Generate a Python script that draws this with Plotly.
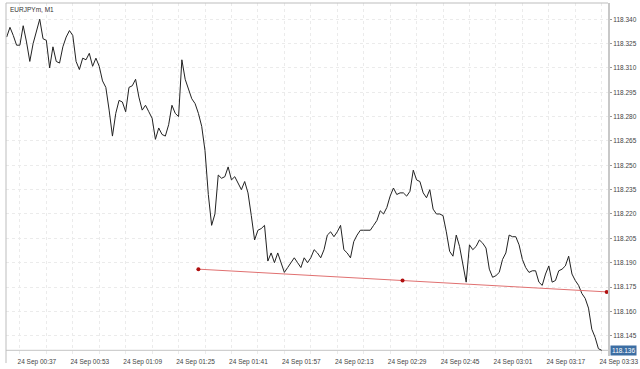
import plotly.graph_objects as go
import pandas as pd

# ---- data ----
start_time = "2019-09-24 00:33"
close_prices = [
    118.329, 118.335, 118.330, 118.324, 118.324, 118.336, 118.326, 118.314, 118.325, 118.333,
    118.340, 118.328, 118.327, 118.310, 118.323, 118.314, 118.313, 118.323, 118.329, 118.333,
    118.330, 118.314, 118.309, 118.316, 118.315, 118.319, 118.311, 118.316, 118.311, 118.302,
    118.298, 118.284, 118.268, 118.282, 118.290, 118.289, 118.283, 118.298, 118.299, 118.303,
    118.292, 118.284, 118.287, 118.283, 118.279, 118.266, 118.273, 118.269, 118.268, 118.275,
    118.287, 118.282, 118.280, 118.315, 118.303, 118.297, 118.291, 118.288, 118.282, 118.274,
    118.259, 118.232, 118.213, 118.220, 118.244, 118.242, 118.243, 118.249, 118.241, 118.243,
    118.239, 118.235, 118.240, 118.233, 118.219, 118.204, 118.210, 118.211, 118.213, 118.191,
    118.196, 118.190, 118.196, 118.190, 118.184, 118.187, 118.190, 118.193, 118.190, 118.187,
    118.193, 118.190, 118.193, 118.198, 118.196, 118.193, 118.198, 118.207, 118.209, 118.206,
    118.209, 118.213, 118.198, 118.196, 118.193, 118.203, 118.207, 118.210, 118.210, 118.210,
    118.210, 118.213, 118.216, 118.222, 118.220, 118.224, 118.231, 118.236, 118.232, 118.233,
    118.233, 118.231, 118.234, 118.247, 118.241, 118.240, 118.233, 118.230, 118.235, 118.223,
    118.220, 118.220, 118.219, 118.209, 118.197, 118.194, 118.207, 118.200, 118.188, 118.178,
    118.201, 118.198, 118.200, 118.204, 118.202, 118.199, 118.186, 118.181, 118.182, 118.184,
    118.192, 118.196, 118.207, 118.206, 118.206, 118.201, 118.192, 118.187, 118.184, 118.185,
    118.185, 118.178, 118.176, 118.183, 118.188, 118.178, 118.179, 118.185, 118.186, 118.188,
    118.194, 118.183, 118.179, 118.176, 118.171, 118.168, 118.162, 118.149, 118.144, 118.137,
    118.136,
]
times = pd.date_range(start_time, periods=len(close_prices), freq="min")

trend_times = ["2019-09-24 01:31:00", "2019-09-24 02:32:45", "2019-09-24 03:34:30"]
trend_values = [118.186, 118.179, 118.172]

last_price = close_prices[-1]
chart_title = "EURJPYm, M1"

x_range = ["2019-09-24 00:32:48", "2019-09-24 03:34:54"]
y_range = [118.1325, 118.350]

grid_color = "#ebebeb"

fig = go.Figure()

fig.add_trace(go.Scatter(
    x=times, y=close_prices, mode="lines",
    line=dict(color="#222222", width=1), hoverinfo="skip", showlegend=False,
))
fig.add_trace(go.Scatter(
    x=trend_times, y=trend_values, mode="lines+markers",
    line=dict(color="#e07070", width=1),
    marker=dict(color="#b01010", size=4),
    hoverinfo="skip", showlegend=False, cliponaxis=False,
))

# bid line
fig.add_shape(type="line", xref="paper", x0=0, x1=1, yref="y", y0=last_price, y1=last_price,
              line=dict(color="#c4c4c4", width=1), layer="below")
# left and top borders
fig.add_shape(type="line", xref="paper", yref="paper", x0=0, x1=0, y0=-0.02, y1=1,
              line=dict(color="#bdbdbd", width=1))
fig.add_shape(type="line", xref="paper", yref="paper", x0=0, x1=1, y0=1, y1=1,
              line=dict(color="#bdbdbd", width=1))

fig.add_annotation(xref="paper", yref="paper", x=0.003, y=0.997, xanchor="left", yanchor="top",
                   text=chart_title, showarrow=False,
                   font=dict(family="Liberation Sans, Arial", size=6.5, color="#333333"))
fig.add_annotation(xref="paper", yref="y", x=1.003, y=last_price, xanchor="left", yanchor="middle",
                   text=f"{last_price:.3f}", showarrow=False, bgcolor="#3c6ea3",
                   borderpad=1, font=dict(family="Liberation Sans, Arial", size=6.5, color="white"))

fig.update_layout(
    width=640, height=369,
    margin=dict(l=6, r=27, t=3, b=12),
    paper_bgcolor="white", plot_bgcolor="white",
    font=dict(family="Liberation Sans, Arial", size=6.5, color="#444444"),
)
fig.update_xaxes(
    type="date", range=x_range,
    tick0="2019-09-24 00:37", dtick=16 * 60 * 1000, tickformat="%d %b %H:%M",
    showgrid=True, gridcolor=grid_color, griddash="dot", gridwidth=1,
    minor=dict(dtick=8 * 60 * 1000, tick0="2019-09-24 00:37", showgrid=True,
               gridcolor=grid_color, griddash="dot"),
    ticks="", ticklabelshift=17, ticklabelstandoff=0,
    showline=False, zeroline=False,
    tickfont=dict(size=6.5, color="#444444"),
)
fig.update_yaxes(
    side="right", range=y_range,
    tick0=118.145, dtick=0.015, tickformat=".3f",
    showgrid=True, gridcolor=grid_color, griddash="dot", gridwidth=1,
    ticks="outside", ticklen=2, tickcolor="#999999",
    showline=True, linecolor="#c8c8c8", linewidth=2, zeroline=False,
    tickfont=dict(size=6.5, color="#444444"),
)

fig.write_html("out.html")
